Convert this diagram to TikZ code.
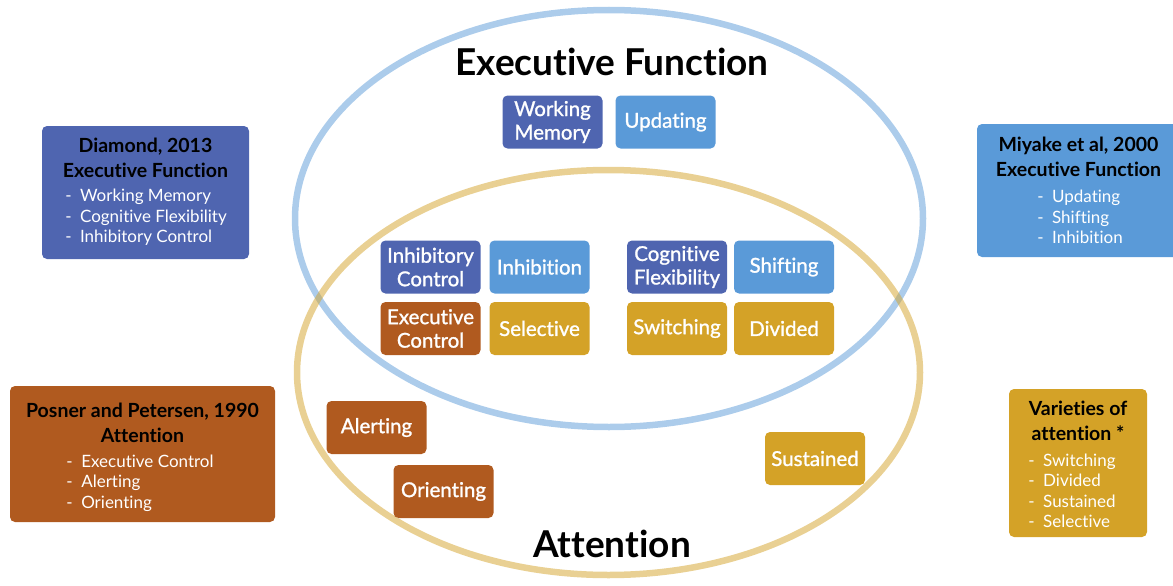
\documentclass[tikz,border=0pt]{standalone}
\usepackage{fontspec}
\setmainfont{Lato}[Ligatures=NoCommon]
\newfontfamily\tagfont{Lato}[Ligatures=NoCommon, FakeBold=1.2]
\usetikzlibrary{positioning}
\definecolor{efdark}{HTML}{4F65B0}
\definecolor{eflight}{HTML}{5A9AD8}
\definecolor{attbrown}{HTML}{B05A1F}
\definecolor{attgold}{HTML}{D4A227}

\begin{document}
\begin{tikzpicture}[x=1pt, y=-1pt,
	tag/.style={rounded corners=5pt, text=white, align=center, inner sep=0pt, minimum width=100pt, minimum height=53pt, font=\tagfont\fontsize{20.5}{23.5}\selectfont},
	panel/.style={rounded corners=5pt, inner sep=0pt},
	panelhead/.style={align=center, inner sep=0pt, font=\fontsize{19.5}{25}\selectfont\bfseries},
	panellist/.style={align=left, inner sep=0pt, text=white, font=\fontsize{17}{20.5}\selectfont},
	head/.style={font=\fontsize{37}{44}\selectfont\bfseries, inner sep=0pt},
	ring/.style={line width=6.5pt, draw opacity=0.5}]
	\path[use as bounding box, clip] (0,0) rectangle (1173,586);
	% the two overlapping rings
	\draw[ring, eflight] (609,218.5) ellipse [x radius=314, y radius=208.5];
	\draw[ring, attgold] (608.5,372.5) ellipse [x radius=311.5, y radius=202.5];
	\node[head] (efTitle) at (612,62) {Executive Function};
	\node[head] (attTitle) at (612,544) {Attention};
	% small boxes inside the rings
	\foreach \name/\x/\y/\col/\txt in {wm/552.5/122/efdark/{Working\\Memory}, upd/665.5/122/eflight/{Updating},
		ic/430.5/267/efdark/{Inhibitory\\Control}, inh/539.5/267/eflight/{Inhibition},
		cf/677/267/efdark/{Cognitive\\Flexibility}, shf/784/267/eflight/{Shifting},
		ec/430.5/328.5/attbrown/{Executive\\Control}, sel/539.5/328.5/attgold/{Selective},
		swi/677/328.5/attgold/{Switching}, div/784/328.5/attgold/{Divided},
		alr/376.5/427.5/attbrown/{Alerting}, ori/443.5/491.5/attbrown/{Orienting},
		sus/815/458.5/attgold/{Sustained}}
	{
		\node[tag, fill=\col] (\name) at (\x,\y) {\txt};
	}
	% the four sources
	\node[panel, fill=efdark, minimum width=207pt, minimum height=133pt] (diamond) at (145.5,192.5) {};
	\node[panelhead] (diamondHead) at (145.5,157.5) {Diamond, 2013\\Executive Function};
	\node[panellist] (diamondList) at (146,217.5) {-\hspace{0.5em}Working Memory\\-\hspace{0.5em}Cognitive Flexibility\\-\hspace{0.5em}Inhibitory Control};
	\node[panel, fill=eflight, minimum width=203pt, minimum height=133pt] (miyake) at (1078.5,190.5) {};
	\node[panelhead] (miyakeHead) at (1078.5,157) {Miyake et al, 2000\\Executive Function};
	\node[panellist] (miyakeList) at (1080,217) {-\hspace{0.5em}Updating\\-\hspace{0.5em}Shifting\\-\hspace{0.5em}Inhibition};
	\node[panel, fill=attbrown, minimum width=265pt, minimum height=136pt] (posner) at (142.5,454) {};
	\node[panelhead] (posnerHead) at (142.5,423) {Posner and Petersen, 1990\\Attention};
	\node[panellist] (posnerList) at (140,483) {-\hspace{0.5em}Executive Control\\-\hspace{0.5em}Alerting\\-\hspace{0.5em}Orienting};
	\node[panel, fill=attgold, minimum width=138pt, minimum height=148pt] (varieties) at (1078,463) {};
	\node[panelhead] (varietiesHead) at (1078,421) {Varieties of\\attention *};
	\node[panellist] (varietiesList) at (1072,491) {-\hspace{0.5em}Switching\\-\hspace{0.5em}Divided\\-\hspace{0.5em}Sustained\\-\hspace{0.5em}Selective};
\end{tikzpicture}
\end{document}
